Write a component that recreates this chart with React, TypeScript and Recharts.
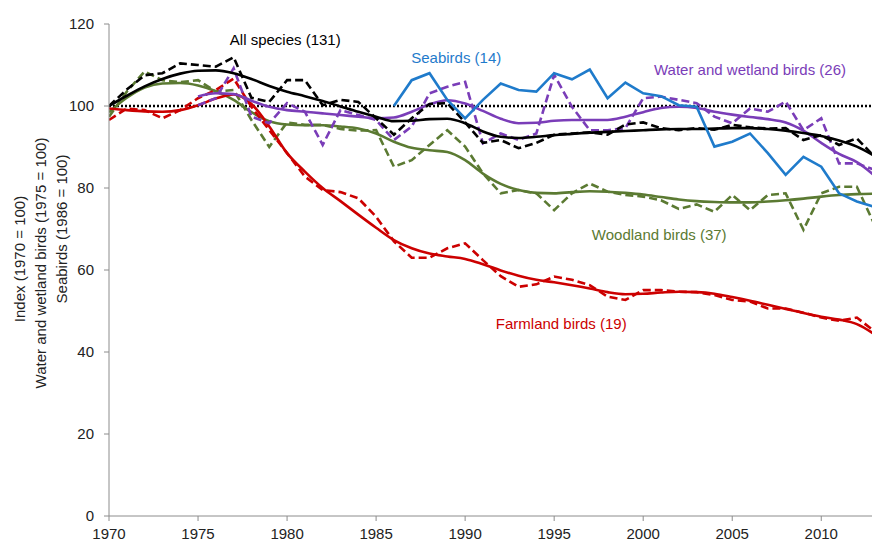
import React from 'react';
import {
  LineChart,
  Line,
  XAxis,
  YAxis,
  ReferenceLine,
  ReferenceDot,
  Label,
} from 'recharts';

const years = [
  1970, 1971, 1972, 1973, 1974, 1975, 1976, 1977, 1978, 1979,
  1980, 1981, 1982, 1983, 1984, 1985, 1986, 1987, 1988, 1989,
  1990, 1991, 1992, 1993, 1994, 1995, 1996, 1997, 1998, 1999,
  2000, 2001, 2002, 2003, 2004, 2005, 2006, 2007, 2008, 2009,
  2010, 2011, 2012, 2013,
];

// smoothed trends
const allTrend = [
  100, 102.5, 104.8, 106.6, 107.9, 108.6, 108.7, 108, 106.6, 104.9,
  103.5, 102.4, 101.2, 99.9, 98.6, 97.4, 96.3, 96.4, 96.8, 96.9,
  95.8, 93.8, 92.5, 92.2, 92.5, 92.9, 93.2, 93.5, 93.7, 93.9,
  94.1, 94.3, 94.4, 94.4, 94.5, 94.6, 94.6, 94.4, 94, 93.4,
  92.7, 91.6, 90.1, 87.8,
];
const woodTrend = [
  98.5, 102, 104.5, 105.5, 105.6, 105, 103.6, 101.5, 98.5, 96.3,
  95.5, 95.3, 95.3, 95, 94.5, 93.3, 91.3, 89.8, 89.2, 88.8,
  86.8, 83.5, 81, 79.5, 78.8, 78.7, 79, 79.2, 79.1, 78.8,
  78.4, 77.8, 77.2, 76.8, 76.6, 76.5, 76.5, 76.7, 77, 77.4,
  77.9, 78.3, 78.5, 78.6,
];
const farmTrend = [
  99.4, 99, 98.7, 98.6, 99, 100.2, 101.8, 102.8, 100.5, 95,
  88.5, 84, 80, 76.8, 73.5, 70.3, 67.3, 65.3, 64, 63.3,
  62.7, 61.4, 59.9, 58.6, 57.6, 57, 56.3, 55.5, 54.6, 54.1,
  54.2, 54.5, 54.7, 54.6, 54.2, 53.4, 52.5, 51.5, 50.5, 49.5,
  48.6, 47.9, 46.8, 44.3,
];
const waterTrend = [
  null, null, null, null, null, 102.3, 103.1, 102.9, 101.3, 99.8,
  99, 98.6, 98.2, 97.8, 97.4, 97, 97.2, 98.6, 100.4, 101.4,
  100.6, 98.8, 96.9, 95.8, 95.9, 96.4, 96.6, 96.6, 96.6, 97.4,
  98.5, 99.5, 99.8, 99.5, 98.6, 97.9, 97.3, 96.8, 96, 94,
  91, 88.3, 86.3, 83,
];

// annual indices
const allAnnual = [
  100, 104, 107.5, 108, 110.4, 110, 109.6, 111.9, 102, 101,
  106.3, 106.3, 100.2, 101.5, 101, 97, 93, 97, 100.5, 100.7,
  96, 91, 91.7, 89.7, 91, 93, 93.3, 93.6, 93, 95.5,
  96, 94.6, 94.1, 94.6, 94.2, 95.4, 94.8, 94.5, 94.6, 91.7,
  92.9, 90.5, 92.1, 87.6,
];
const woodAnnual = [
  97.4, 103.5, 108.4, 106.3, 105.8, 106.3, 103.5, 103.9, 96.6, 90,
  96, 95.4, 95.4, 94.4, 94, 94.1, 85.2, 86.8, 90.5, 94.1,
  90.1, 83.6, 78.7, 79.5, 78.7, 74.6, 78.7, 81.1, 79.1, 78.3,
  77.9, 77, 74.9, 76, 74.2, 78.3, 74.6, 78.3, 78.7, 69.8,
  78.7, 80.3, 80.3, 71,
];
const farmAnnual = [
  96.6, 99.4, 99, 97, 99, 101.9, 103.9, 106.7, 99.8, 94.1,
  88.5, 82.8, 79.5, 79, 77.5, 73, 67, 63, 63, 65.3,
  66.5, 62.4, 58.5, 55.9, 56.5, 58.4, 57.6, 56.3, 53.5, 52.7,
  55.1, 55.1, 54.7, 54.6, 53.9, 52.7, 52.3, 50.6, 50.6, 49.6,
  48.4, 47.6, 48.4, 45,
];
const waterAnnual = [
  null, null, null, null, null, 100.2, 101.9, 109.2, 97.4, 95.8,
  100.7, 98.6, 90.5, 99, 97.8, 96.6, 91.7, 95, 103.1, 104.7,
  105.9, 90.9, 93.3, 91.7, 93.3, 107.6, 99.8, 94.1, 94.1, 94.6,
  101.9, 102.3, 101.5, 100.7, 97.4, 95.8, 99.4, 98.6, 101.1, 94.1,
  97, 86, 86, 84.4,
];
const seabirds = [
  null, null, null, null, null, null, null, null, null, null,
  null, null, null, null, null, null, 100, 106.3, 108, 101.5,
  97, 101.5, 105.5, 103.9, 103.5, 108, 106.5, 108.9, 101.9, 105.7,
  103.1, 102.4, 100.2, 99.8, 90.1, 91.3, 93.3, 88.5, 83.2, 87.6,
  85.2, 78.7, 76.7, 75.4,
];

const xTicks = [1970, 1975, 1980, 1985, 1990, 1995, 2000, 2005, 2010];
const yTicks = [0, 20, 40, 60, 80, 100, 120];

const data = years.map((year, i) => ({
  year,
  allTrend: allTrend[i],
  allAnnual: allAnnual[i],
  woodTrend: woodTrend[i],
  woodAnnual: woodAnnual[i],
  farmTrend: farmTrend[i],
  farmAnnual: farmAnnual[i],
  waterTrend: waterTrend[i],
  waterAnnual: waterAnnual[i],
  seabirds: seabirds[i],
}));

const BLACK = '#000000';
const BLUE = '#1f7bcb';
const PURPLE = '#7a3db8';
const OLIVE = '#5b7a32';
const RED = '#cc0000';
const AXIS = '#8c8c8c';
const FONT = '"Liberation Sans", Arial, sans-serif';

const seriesLabels = [
  { text: 'All species (131)', year: 1979.9, value: 116.1, color: BLACK },
  { text: 'Seabirds (14)', year: 1989.5, value: 111.9, color: BLUE },
  { text: 'Water and wetland birds (26)', year: 2006.0, value: 108.8, color: PURPLE },
  { text: 'Woodland birds (37)', year: 2000.9, value: 68.5, color: OLIVE },
  { text: 'Farmland birds (19)', year: 1995.4, value: 46.8, color: RED },
];

function AxisTitle() {
  return (
    <g fontFamily={FONT} fontSize={15} fill="#222">
      <text x={19} y={259} transform="rotate(-90 19 259)" textAnchor="middle" dominantBaseline="central">
        Index (1970 = 100)
      </text>
      <text x={40} y={263} transform="rotate(-90 40 263)" textAnchor="middle" dominantBaseline="central">
        Water and wetland birds (1975 = 100)
      </text>
      <text x={61} y={229} transform="rotate(-90 61 229)" textAnchor="middle" dominantBaseline="central">
        Seabirds (1986 = 100)
      </text>
    </g>
  );
}

export default function App() {
  const tickStyle = { fill: '#222', fontSize: 15, fontFamily: FONT };
  const dash = { strokeWidth: 2.6, strokeDasharray: '8 4', dot: false, type: 'linear' as const, isAnimationActive: false };
  const trend = { strokeWidth: 2.6, dot: false, type: 'monotone' as const, isAnimationActive: false };
  return (
    <div style={{ position: 'absolute', left: 0, top: 0, background: '#fff' }}>
      <LineChart
        width={872}
        height={542}
        data={data}
        margin={{ top: 24, right: 0, bottom: 0, left: 49 }}
      >
        <XAxis
          dataKey="year"
          type="number"
          domain={[1970, 2012.85]}
          allowDataOverflow
          ticks={xTicks}
          height={26}
          tickSize={5}
          tickMargin={7}
          stroke={AXIS}
          tick={tickStyle}
        />
        <YAxis
          domain={[0, 120]}
          ticks={yTicks}
          width={60}
          tickSize={5}
          tickMargin={10}
          stroke={AXIS}
          tick={tickStyle}
        >
          <Label content={() => <AxisTitle />} />
        </YAxis>
        <ReferenceLine y={100} stroke={BLACK} strokeWidth={2.5} strokeDasharray="2 2" />

        <Line dataKey="woodAnnual" stroke={OLIVE} {...dash} />
        <Line dataKey="woodTrend" stroke={OLIVE} {...trend} />
        <Line dataKey="farmAnnual" stroke={RED} {...dash} />
        <Line dataKey="farmTrend" stroke={RED} {...trend} />
        <Line dataKey="waterAnnual" stroke={PURPLE} {...dash} />
        <Line dataKey="waterTrend" stroke={PURPLE} {...trend} />
        <Line dataKey="allAnnual" stroke={BLACK} {...dash} />
        <Line dataKey="allTrend" stroke={BLACK} {...trend} />
        <Line dataKey="seabirds" stroke={BLUE} strokeWidth={2.6} dot={false} type="linear" isAnimationActive={false} />

        {seriesLabels.map((l) => (
          <ReferenceDot
            key={l.text}
            x={l.year}
            y={l.value}
            r={0}
            fill="none"
            stroke="none"
            label={{ value: l.text, position: 'center', fill: l.color, fontSize: 15, fontFamily: FONT }}
          />
        ))}
      </LineChart>
    </div>
  );
}
